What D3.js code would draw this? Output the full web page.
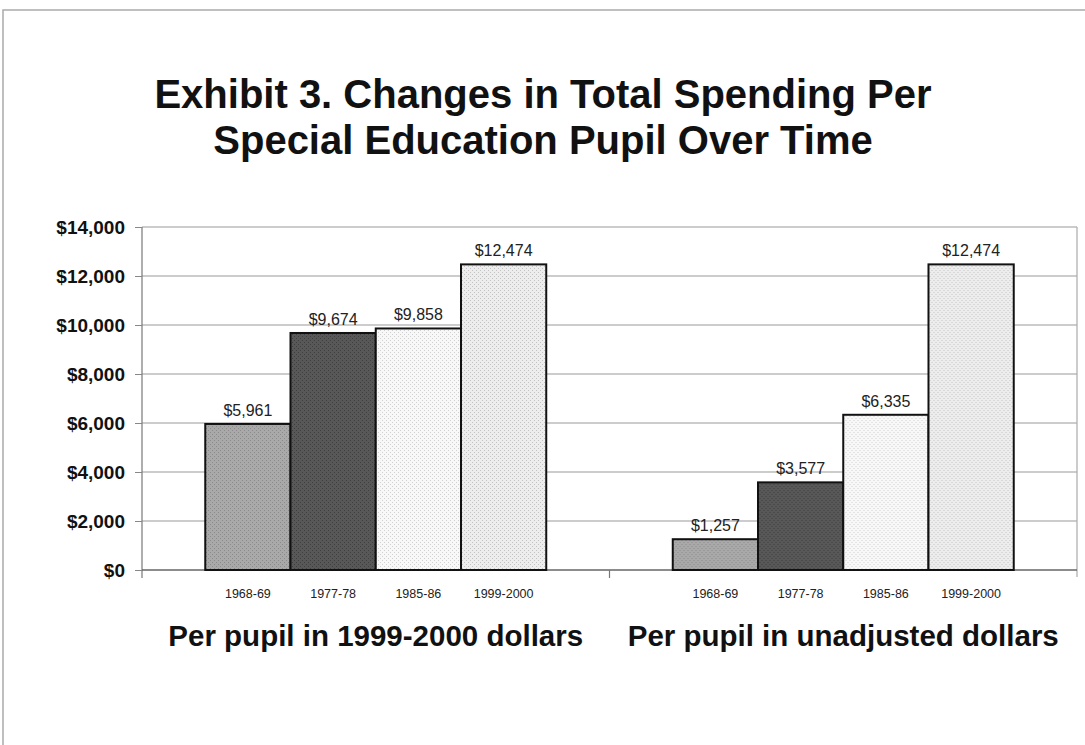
<!doctype html>
<html lang="en">
  <head>
    <title>Exhibit 3</title>
    <style>
      body {
        margin: 0;
        background: #fff;
      }
      svg {
        display: block;
        font-family: "Liberation Sans", Arial, sans-serif;
      }
    </style>
  </head>
  <body>
    <div id="chart"></div>

    <script src="https://cdn.jsdelivr.net/npm/d3@7"></script>
    <script>
      const years = ['1968-69', '1977-78', '1985-86', '1999-2000']
      const groups = ['Per pupil in 1999-2000 dollars', 'Per pupil in unadjusted dollars']
      const adjusted = [5961, 9674, 9858, 12474]
      const unadjusted = [1257, 3577, 6335, 12474]
      const yTicks = [0, 2000, 4000, 6000, 8000, 10000, 12000, 14000]

      const width = 1085
      const height = 745
      const plotLeft = 142, plotRight = 1077, plotTop = 227, plotBottom = 570

      const svg = d3.select('#chart')
        .append('svg')
        .attr('width', width)
        .attr('height', height)

      // textured fills, roughly like the scanned original
      const defs = svg.append('defs')
      const fills = [
        { base: '#a9a9a9', dot: '#8a8a8a' },
        { base: '#585858', dot: '#3e3e3e' },
        { base: '#f8f8f8', dot: '#cfcfcf' },
        { base: '#ededed', dot: '#c2c2c2' }
      ]
      fills.forEach((f, i) => {
        const p = defs.append('pattern')
          .attr('id', 'fill' + i)
          .attr('width', 4).attr('height', 4)
          .attr('patternUnits', 'userSpaceOnUse')
        p.append('rect').attr('width', 4).attr('height', 4).attr('fill', f.base)
        p.append('rect').attr('x', 0).attr('y', 0).attr('width', 1).attr('height', 1).attr('fill', f.dot)
        p.append('rect').attr('x', 2).attr('y', 2).attr('width', 1).attr('height', 1).attr('fill', f.dot)
      })

      // page frame from the scan
      svg.append('path')
        .attr('d', `M3,${height} V10 H${width}`)
        .attr('fill', 'none')
        .attr('stroke', '#aaa')
        .attr('stroke-width', 1.5)

      // title
      const title = svg.append('text')
        .attr('text-anchor', 'middle')
        .attr('font-weight', 'bold')
        .attr('font-size', 40)
        .attr('fill', '#111')
      title.append('tspan').attr('x', 543).attr('y', 108).text('Exhibit 3. Changes in Total Spending Per')
      title.append('tspan').attr('x', 543).attr('y', 154).text('Special Education Pupil Over Time')

      const y = d3.scaleLinear().domain([0, 14000]).range([plotBottom, plotTop])
      const x0 = d3.scaleBand().domain(groups).range([plotLeft, plotRight])
      const x1 = d3.scaleBand().domain(years).range([0, x0.bandwidth()])
        .paddingInner(0).paddingOuter(0.742)

      // gridlines
      svg.append('g')
        .selectAll('line')
        .data(yTicks.slice(1))
        .enter()
        .append('line')
          .attr('x1', plotLeft).attr('x2', plotRight)
          .attr('y1', d => y(d)).attr('y2', d => y(d))
          .attr('stroke', '#9a9a9a')
          .attr('stroke-width', 1.2)

      // right border of plot
      svg.append('line')
        .attr('x1', plotRight).attr('x2', plotRight)
        .attr('y1', plotTop).attr('y2', plotBottom + 7)
        .attr('stroke', '#aaa')
        .attr('stroke-width', 1.2)

      // y axis
      const yAxis = svg.append('g')
        .attr('transform', `translate(${plotLeft},0)`)
        .call(d3.axisLeft(y).tickValues(yTicks).tickFormat(d3.format('$,')).tickSize(7).tickSizeOuter(0))
      yAxis.select('.domain').attr('stroke', '#777').attr('stroke-width', 1.2)
        .attr('d', `M0,${plotTop}V${plotBottom + 8}`)
      yAxis.selectAll('.tick line').attr('stroke', '#888')
      yAxis.selectAll('.tick text')
        .attr('x', -17)
        .attr('font-size', 19)
        .attr('font-weight', 'bold')
        .attr('fill', '#111')
        .attr('font-family', '"Liberation Sans", Arial, sans-serif')

      // baseline with middle tick
      svg.append('line')
        .attr('x1', plotLeft).attr('x2', plotRight)
        .attr('y1', plotBottom).attr('y2', plotBottom)
        .attr('stroke', '#666').attr('stroke-width', 1.5)
      svg.append('line')
        .attr('x1', x0(groups[1])).attr('x2', x0(groups[1]))
        .attr('y1', plotBottom).attr('y2', plotBottom + 8)
        .attr('stroke', '#777').attr('stroke-width', 1.2)

      const series = [adjusted, unadjusted]
      groups.forEach((g, gi) => {
        const gEl = svg.append('g').attr('transform', `translate(${x0(g)},0)`)
        const data = years.map((yr, i) => ({ year: yr, value: series[gi][i], i }))

        gEl.selectAll('rect')
          .data(data)
          .enter()
          .append('rect')
            .attr('x', d => x1(d.year))
            .attr('y', d => y(d.value))
            .attr('width', x1.bandwidth())
            .attr('height', d => plotBottom - y(d.value))
            .attr('fill', d => `url(#fill${d.i})`)
            .attr('stroke', '#111')
            .attr('stroke-width', 2)

        gEl.selectAll('.val')
          .data(data)
          .enter()
          .append('text')
            .attr('class', 'val')
            .attr('x', d => x1(d.year) + x1.bandwidth() / 2)
            .attr('y', d => y(d.value) - 8)
            .attr('text-anchor', 'middle')
            .attr('font-size', 16)
            .attr('fill', '#222')
            .text(d => d3.format('$,')(d.value))

        gEl.selectAll('.yr')
          .data(data)
          .enter()
          .append('text')
            .attr('class', 'yr')
            .attr('x', d => x1(d.year) + x1.bandwidth() / 2)
            .attr('y', 598)
            .attr('text-anchor', 'middle')
            .attr('font-size', 12.5)
            .attr('fill', '#222')
            .text(d => d.year)

        gEl.append('text')
          .attr('x', x0.bandwidth() / 2)
          .attr('y', 646)
          .attr('text-anchor', 'middle')
          .attr('font-size', 29.5)
          .attr('font-weight', 'bold')
          .attr('fill', '#111')
          .text(g)
      })
    </script>
  </body>
</html>
